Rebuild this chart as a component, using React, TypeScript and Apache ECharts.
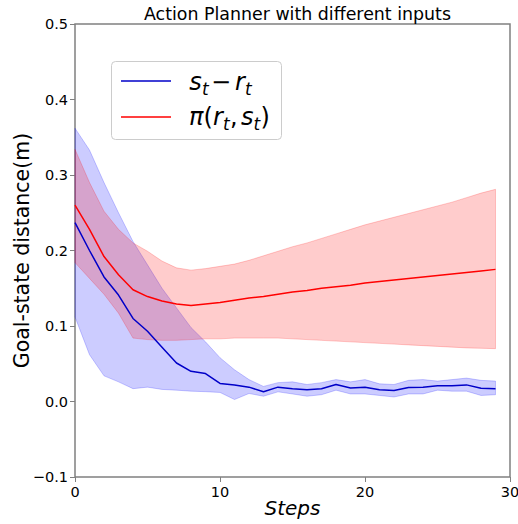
import React, { useEffect, useRef } from 'react';
import * as echarts from 'echarts';

const steps = [0, 1, 2, 3, 4, 5, 6, 7, 8, 9, 10, 11, 12, 13, 14, 15, 16, 17, 18, 19, 20, 21, 22, 23, 24, 25, 26, 27, 28, 29];

const blueMean = [0.237, 0.2, 0.165, 0.141, 0.11, 0.093, 0.072, 0.051, 0.04, 0.037, 0.024, 0.022, 0.019, 0.013, 0.019, 0.017, 0.0155, 0.017, 0.0225, 0.018, 0.019, 0.0155, 0.0146, 0.0185, 0.019, 0.021, 0.021, 0.022, 0.0176, 0.017];
const blueUpper = [0.362, 0.333, 0.29, 0.25, 0.212, 0.181, 0.15, 0.124, 0.098, 0.079, 0.058, 0.042, 0.029, 0.02, 0.025, 0.026, 0.0225, 0.025, 0.029, 0.026, 0.029, 0.0234, 0.0225, 0.028, 0.029, 0.027, 0.029, 0.031, 0.028, 0.027];
const blueLower = [0.112, 0.062, 0.034, 0.026, 0.017, 0.019, 0.016, 0.015, 0.0137, 0.013, 0.012, 0.0026, 0.0106, 0.007, 0.0128, 0.01, 0.007, 0.009, 0.015, 0.01, 0.01, 0.008, 0.006, 0.01, 0.01, 0.015, 0.0137, 0.0137, 0.008, 0.009];

const redMean = [0.26, 0.228, 0.192, 0.168, 0.148, 0.139, 0.133, 0.129, 0.127, 0.129, 0.131, 0.134, 0.137, 0.139, 0.142, 0.145, 0.147, 0.15, 0.152, 0.154, 0.157, 0.159, 0.161, 0.163, 0.165, 0.167, 0.169, 0.171, 0.173, 0.175];
const redUpper = [0.334, 0.29, 0.252, 0.228, 0.21, 0.199, 0.186, 0.177, 0.174, 0.176, 0.179, 0.182, 0.187, 0.193, 0.199, 0.205, 0.21, 0.216, 0.222, 0.228, 0.234, 0.239, 0.244, 0.249, 0.254, 0.259, 0.264, 0.27, 0.276, 0.281];
const redLower = [0.184, 0.163, 0.142, 0.117, 0.084, 0.082, 0.081, 0.081, 0.082, 0.083, 0.083, 0.084, 0.084, 0.084, 0.084, 0.083, 0.082, 0.081, 0.08, 0.079, 0.078, 0.077, 0.076, 0.075, 0.074, 0.073, 0.072, 0.071, 0.0705, 0.07];

const xTicks = { min: 0, max: 30, interval: 10 };
const yTicks = { min: -0.1, max: 0.5, interval: 0.1 };

const titleText = 'Action Planner with different inputs';
const xLabel = 'Steps';
const yLabel = 'Goal-state distance(m)';

const FONT = 'DejaVu Sans';
const BLUE_LINE = '#0000c8';
const RED_LINE = '#ff0000';
const BLUE_FILL = 'rgba(0,0,255,0.2)';
const RED_FILL = 'rgba(255,0,0,0.2)';
const AXIS_COLOR = '#808080';

export default function App() {
  const ref = useRef<HTMLDivElement>(null);
  useEffect(() => {
    const chart = echarts.init(ref.current!, null, { renderer: 'svg' });
    const pts = (ys: number[]) => steps.map((s, i) => [s, ys[i]]);

    const bandSeries = (name: string, lower: number[], upper: number[], fill: string) => ({
      name,
      type: 'custom',
      silent: true,
      data: [[steps[0], lower[0]]],
      renderItem: (_params: any, api: any) => {
        const top = steps.map((s, i) => api.coord([s, upper[i]]));
        const bottom = steps.map((s, i) => api.coord([s, lower[i]])).reverse();
        return {
          type: 'polygon',
          shape: { points: top.concat(bottom) },
          style: { fill, stroke: fill, lineWidth: 1 },
        };
      },
    });

    const fs = 24;
    const sub = 17;
    const piece = (text: string, x: number, baseline: number, size: number, italic: boolean) => ({
      type: 'text',
      x,
      y: baseline - 0.346 * size,
      style: {
        text,
        fontFamily: FONT,
        fontSize: size,
        fontStyle: italic ? 'italic' : 'normal',
        fill: '#000',
        align: 'left',
        verticalAlign: 'middle',
      },
    });
    const b1 = 90;
    const b2 = 125;
    const legendGraphics = [
      {
        type: 'rect',
        shape: { x: 111.5, y: 61.5, width: 170, height: 78, r: 4 },
        style: { fill: 'rgba(255,255,255,0.8)', stroke: '#cccccc', lineWidth: 1 },
        z: 10,
      },
      { type: 'line', shape: { x1: 121, y1: 81, x2: 171, y2: 81 }, style: { stroke: BLUE_LINE, lineWidth: 1.5 }, z: 11 },
      { type: 'line', shape: { x1: 121, y1: 117, x2: 171, y2: 117 }, style: { stroke: RED_LINE, lineWidth: 1.5 }, z: 11 },
      piece('s', 189.3, b1, fs, true),
      piece('t', 202, b1 + 5, sub, true),
      piece('\u2212', 211, b1, fs, false),
      piece('r', 235, b1, fs, true),
      piece('t', 245, b1 + 5, sub, true),
      piece('\u03c0', 189, b2, fs, true),
      piece('(', 203.5, b2, fs, false),
      piece('r', 213, b2, fs, true),
      piece('t', 223, b2 + 5, sub, true),
      piece(',', 230, b2, fs, false),
      piece('s', 241, b2, fs, true),
      piece('t', 253.5, b2 + 5, sub, true),
      piece(')', 260.5, b2, fs, false),
    ].map((g: any) => ({ ...g, z: g.z ?? 12 }));

    const option: any = {
      animation: false,
      backgroundColor: '#ffffff',
      title: {
        text: titleText,
        left: 292.5,
        top: 0,
        textAlign: 'center',
        textStyle: { fontFamily: FONT, fontSize: 17.4, fontWeight: 'normal', color: '#000' },
      },
      grid: {
        left: 75,
        right: 8,
        top: 24,
        bottom: 47,
        show: true,
        containLabel: false,
        outerBoundsMode: 'none',
        borderColor: AXIS_COLOR,
        borderWidth: 1.5,
        backgroundColor: 'transparent',
      },
      xAxis: {
        type: 'value',
        min: xTicks.min,
        max: xTicks.max,
        interval: xTicks.interval,
        name: xLabel,
        nameLocation: 'middle',
        nameGap: 21,
        nameMoveOverlap: false,
        nameTextStyle: { fontFamily: FONT, fontSize: 20, fontStyle: 'italic', color: '#000' },
        axisLine: { show: false, onZero: false },
        axisTick: { show: true, inside: false, length: 5, lineStyle: { color: AXIS_COLOR, width: 1 } },
        axisLabel: { fontFamily: FONT, fontSize: 14.5, color: '#000', margin: 7 },
        splitLine: { show: false },
      },
      yAxis: {
        type: 'value',
        min: yTicks.min,
        max: yTicks.max,
        interval: yTicks.interval,
        name: yLabel,
        nameLocation: 'middle',
        nameRotate: 90,
        nameGap: 43,
        nameMoveOverlap: false,
        nameTextStyle: { fontFamily: FONT, fontSize: 20.5, color: '#000' },
        axisLine: { show: false, onZero: false },
        axisTick: { show: true, inside: false, length: 5, lineStyle: { color: AXIS_COLOR, width: 1 } },
        axisLabel: {
          fontFamily: FONT,
          fontSize: 14.5,
          color: '#000',
          margin: 7,
          formatter: (v: number) => v.toFixed(1).replace('-', '\u2212'),
        },
        splitLine: { show: false },
      },
      series: [
        bandSeries('blue-band', blueLower, blueUpper, BLUE_FILL),
        bandSeries('red-band', redLower, redUpper, RED_FILL),
        {
          name: 'st-rt',
          type: 'line',
          data: pts(blueMean),
          symbol: 'none',
          lineStyle: { color: BLUE_LINE, width: 1.5 },
        },
        {
          name: 'pi',
          type: 'line',
          data: pts(redMean),
          symbol: 'none',
          lineStyle: { color: RED_LINE, width: 1.5 },
        },
      ],
      graphic: legendGraphics,
    };
    chart.setOption(option);
    return () => chart.dispose();
  }, []);
  return <div ref={ref} style={{ position: 'absolute', left: 0, top: 0, width: 518, height: 524 }} />;
}
